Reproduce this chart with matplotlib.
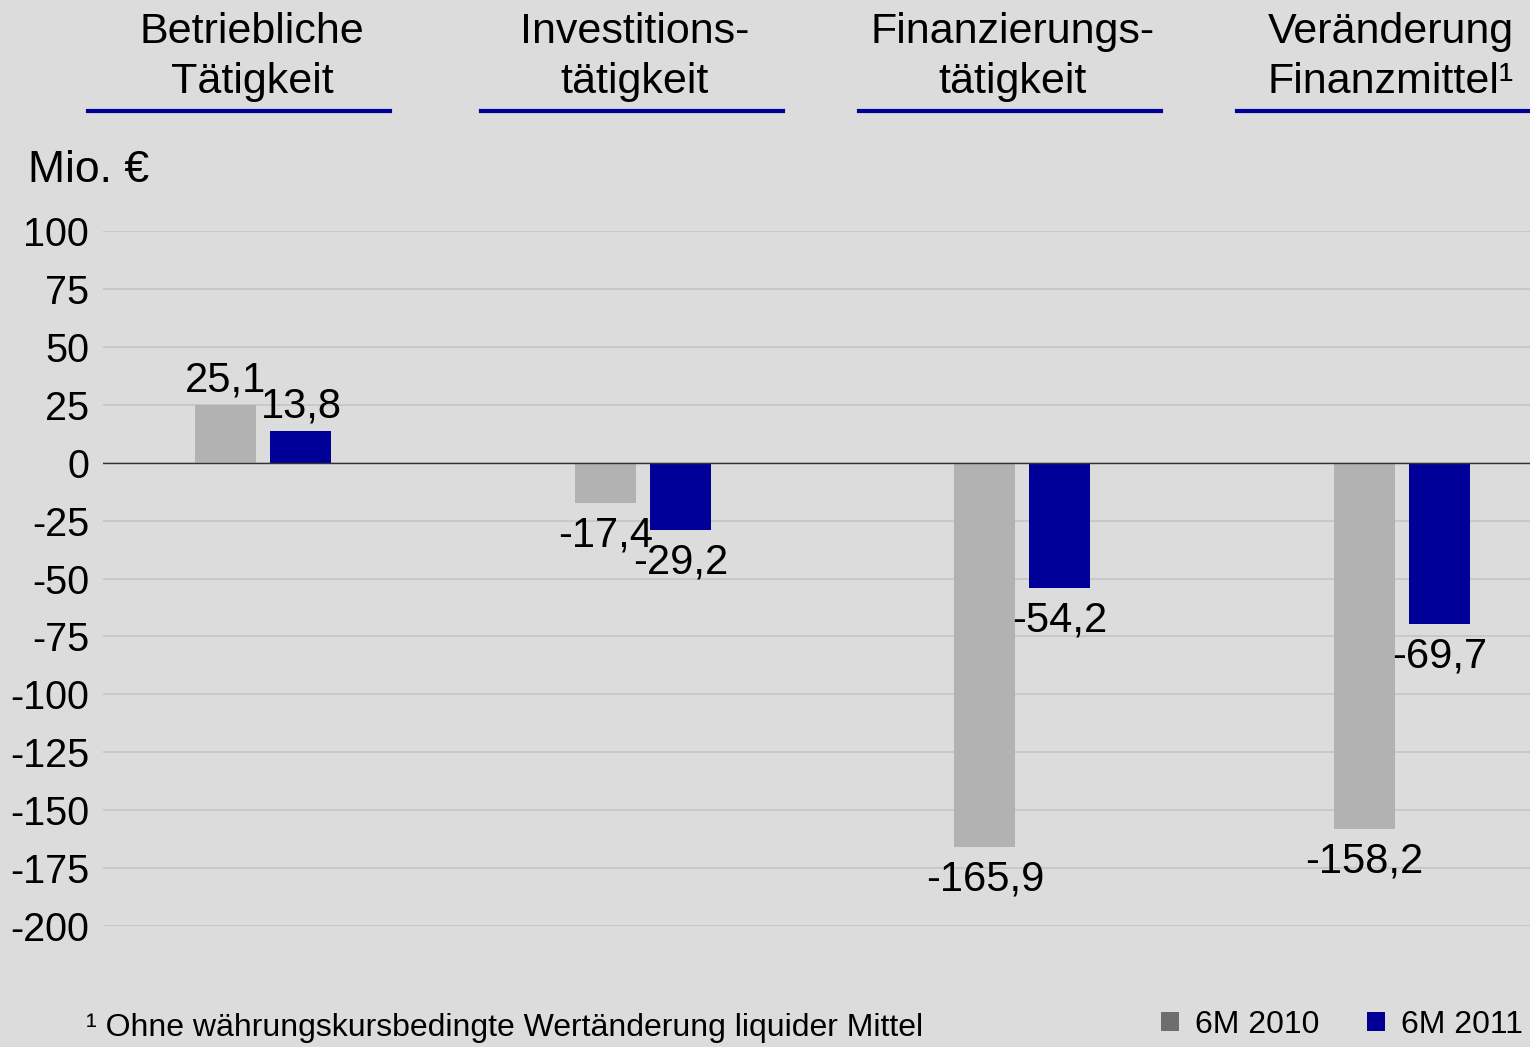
import numpy as np
import matplotlib.pyplot as plt
from matplotlib.patches import Patch

plt.rcParams['font.family'] = ['Liberation Sans', 'DejaVu Sans']

# Daten
kategorien = ['Betriebliche\nTätigkeit', 'Investitions-\ntätigkeit',
              'Finanzierungs-\ntätigkeit', 'Veränderung\nFinanzmittel¹']
werte_2010 = [25.1, -17.4, -165.9, -158.2]
werte_2011 = [13.8, -29.2, -54.2, -69.7]
serien = ['6M 2010', '6M 2011']
yticks = [100, 75, 50, 25, 0, -25, -50, -75, -100, -125, -150, -175, -200]

bg = '#dcdcdc'
grau = '#b2b2b2'
blau = '#000099'

fig = plt.figure(figsize=(15.3, 10.47), dpi=100, facecolor=bg)
W, H = 1530, 1047
ax = fig.add_axes([103 / W, 1 - 926 / H, (1530 - 103) / W, (926 - 231) / H])
ax.set_facecolor(bg)

x = np.arange(len(kategorien))
breite = 0.1607
b1 = ax.bar(x - 0.0988, werte_2010, breite, color=grau, zorder=3)
b2 = ax.bar(x + 0.0988, werte_2011, breite, color=blau, zorder=3)

def fmt(v):
    return f'{v:.1f}'.replace('.', ',')

for bars, werte in [(b1, werte_2010), (b2, werte_2011)]:
    for b, v in zip(bars, werte):
        cx = b.get_x() + b.get_width() / 2
        if v >= 0:
            ax.annotate(fmt(v), (cx, v), xytext=(0, 3), textcoords='offset points',
                        ha='center', va='bottom', fontsize=30, zorder=4)
        else:
            ax.annotate(fmt(v), (cx, v), xytext=(0, -9), textcoords='offset points',
                        ha='center', va='top', fontsize=30, zorder=4)

ax.set_xlim(-0.4227, 3.3376)
ax.set_ylim(-200, 100)
ax.set_yticks(yticks)
ax.set_yticklabels([str(t) for t in yticks], fontsize=28.5)
ax.set_xticks([])
ax.tick_params(axis='y', length=0, pad=10)
ax.grid(axis='y', color='#c4c4c4', linewidth=1.2, zorder=0)
ax.axhline(0, color='#333333', linewidth=1, zorder=3)
for s in ax.spines.values():
    s.set_visible(False)

# Überschriften mit Unterstrich
text_mitte = [252, 635, 1013, 1391]
linie_start = [88, 481, 859, 1237]
for k, cx, ls in zip(kategorien, text_mitte, linie_start):
    fig.text(cx / W, 1 - 57 / H, k, ha='center', va='center',
             fontsize=31, linespacing=1.3)
    fig.add_artist(plt.Line2D([ls / W, (ls + 302) / W],
                              [1 - 111 / H, 1 - 111 / H], color=blau, linewidth=3))

fig.text(28 / W, 1 - 171 / H, 'Mio. €', ha='left', va='center', fontsize=32)

fig.text(86 / W, 1 - 1028 / H, '¹ Ohne währungskursbedingte Wertänderung liquider Mittel',
         ha='left', va='center', fontsize=23)

handles = [Patch(facecolor='#6e6e6e'), Patch(facecolor=blau)]
fig.legend(handles, serien, loc='center right', bbox_to_anchor=(1.004, 1 - 1025 / H),
           ncol=2, frameon=False, fontsize=23, handlelength=0.56, handleheight=0.56,
           handletextpad=0.5, columnspacing=1.5, borderaxespad=0.0)

fig.savefig('out.png', dpi=100, facecolor=bg)
